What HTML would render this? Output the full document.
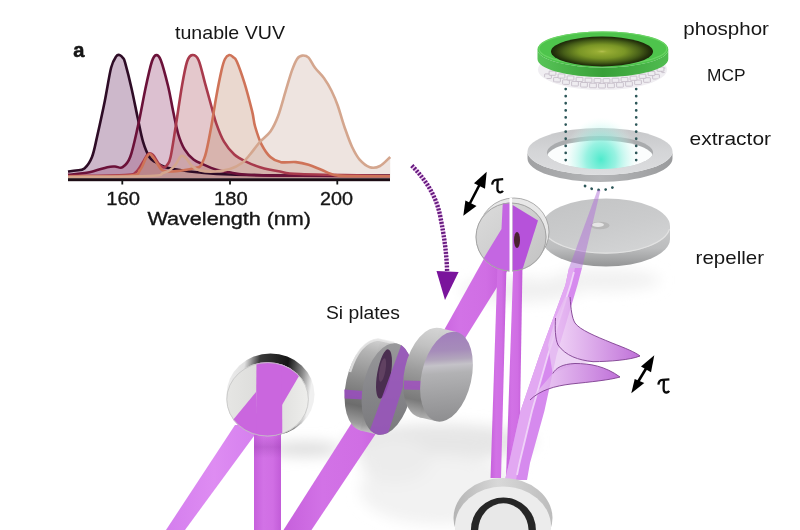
<!DOCTYPE html>
<html><head><meta charset="utf-8">
<style>
html,body{margin:0;padding:0;background:#fff;width:800px;height:530px;overflow:hidden}
svg{display:block;will-change:transform}
text{font-family:"Liberation Sans",sans-serif;fill:#161616}
.lbl{stroke:#161616;stroke-width:0.35}
</style></head><body>
<svg width="800" height="530" viewBox="0 0 800 530">
<defs>
 <radialGradient id="phin" cx="0.5" cy="0.5" r="0.5">
  <stop offset="0" stop-color="#b4c050"/><stop offset="0.1" stop-color="#98ae34"/><stop offset="0.45" stop-color="#7a9626"/><stop offset="0.75" stop-color="#465e18"/><stop offset="0.92" stop-color="#26340c"/><stop offset="1" stop-color="#1a2608"/>
 </radialGradient>
 <linearGradient id="phside" x1="0" y1="0" x2="1" y2="0">
  <stop offset="0" stop-color="#58c458"/><stop offset="0.5" stop-color="#38a038"/><stop offset="1" stop-color="#50bc50"/>
 </linearGradient>
 <radialGradient id="teal" cx="0.5" cy="0.66" r="0.5">
  <stop offset="0" stop-color="#4eeacc" stop-opacity="1"/><stop offset="0.4" stop-color="#76eed8" stop-opacity="0.75"/><stop offset="0.75" stop-color="#b0f6ea" stop-opacity="0.35"/><stop offset="1" stop-color="#e0fff8" stop-opacity="0"/>
 </radialGradient>
 <linearGradient id="ring" x1="0" y1="0" x2="0" y2="1">
  <stop offset="0" stop-color="#c6c7c9"/><stop offset="0.5" stop-color="#d4d5d7"/><stop offset="1" stop-color="#dcdddf"/>
 </linearGradient>
 <linearGradient id="ringside" x1="0" y1="0" x2="1" y2="0">
  <stop offset="0" stop-color="#a0a1a3"/><stop offset="0.5" stop-color="#b4b5b7"/><stop offset="1" stop-color="#9a9b9d"/>
 </linearGradient>
 <linearGradient id="rep" x1="0" y1="0" x2="0.6" y2="1">
  <stop offset="0" stop-color="#c2c3c4"/><stop offset="0.6" stop-color="#cacbcc"/><stop offset="1" stop-color="#d2d3d4"/>
 </linearGradient>
 <linearGradient id="repside" x1="0" y1="0" x2="0" y2="1">
  <stop offset="0" stop-color="#c8c9ca"/><stop offset="0.55" stop-color="#bcbdbe"/><stop offset="1" stop-color="#949596"/>
 </linearGradient>
 <linearGradient id="mir" x1="0" y1="0" x2="1" y2="1">
  <stop offset="0" stop-color="#dcdcdc"/><stop offset="0.5" stop-color="#cfcfcf"/><stop offset="1" stop-color="#c2c2c2"/>
 </linearGradient>
 <linearGradient id="lmface" x1="0" y1="0" x2="1" y2="0">
  <stop offset="0" stop-color="#e6e6e4"/><stop offset="0.5" stop-color="#dadad8"/><stop offset="1" stop-color="#eeeeec"/>
 </linearGradient>
 <linearGradient id="chrome" x1="0" y1="0" x2="1" y2="0.15">
  <stop offset="0" stop-color="#f2f2f2"/><stop offset="0.22" stop-color="#e0e0e0"/><stop offset="0.38" stop-color="#3a3a3a"/><stop offset="0.7" stop-color="#141414"/><stop offset="0.88" stop-color="#8a8a8a"/><stop offset="1" stop-color="#f0f0f0"/>
 </linearGradient>
 <linearGradient id="sirim" gradientUnits="userSpaceOnUse" x1="0" y1="338" x2="0" y2="435">
  <stop offset="0" stop-color="#d4d4d4"/><stop offset="0.15" stop-color="#b4b4b4"/><stop offset="0.45" stop-color="#8c8c8c"/><stop offset="0.72" stop-color="#6c6c6c"/><stop offset="0.9" stop-color="#9c9c9c"/><stop offset="1" stop-color="#d0d0d0"/>
 </linearGradient>
 <linearGradient id="si1face" gradientUnits="userSpaceOnUse" x1="370" y1="345" x2="395" y2="435">
  <stop offset="0" stop-color="#9a9a9c"/><stop offset="0.5" stop-color="#86868a"/><stop offset="1" stop-color="#7a7a7c"/>
 </linearGradient>
 <linearGradient id="si2face" gradientUnits="userSpaceOnUse" x1="440" y1="332" x2="466" y2="420">
  <stop offset="0" stop-color="#a27ebc"/><stop offset="0.2" stop-color="#a68cba"/><stop offset="0.3" stop-color="#b2a6bc"/><stop offset="0.36" stop-color="#c4c2c8"/><stop offset="0.45" stop-color="#b2b2b4"/><stop offset="0.7" stop-color="#a0a0a2"/><stop offset="1" stop-color="#8c8c8e"/>
 </linearGradient>
 <linearGradient id="si2rim" gradientUnits="userSpaceOnUse" x1="0" y1="328" x2="0" y2="421">
  <stop offset="0" stop-color="#d4d4d4"/><stop offset="0.2" stop-color="#c2c2c2"/><stop offset="0.5" stop-color="#9a9a9a"/><stop offset="0.8" stop-color="#7a7a7a"/><stop offset="1" stop-color="#b8b8b8"/>
 </linearGradient>
 <linearGradient id="bmrim" x1="0" y1="0" x2="1" y2="0">
  <stop offset="0" stop-color="#b4b4b4"/><stop offset="0.45" stop-color="#d8d8d8"/><stop offset="1" stop-color="#bcbcbc"/>
 </linearGradient>
 <linearGradient id="pulse" x1="0" y1="0" x2="1" y2="0">
  <stop offset="0" stop-color="#ecc8f4" stop-opacity="0.8"/><stop offset="1" stop-color="#b860d4" stop-opacity="0.9"/>
 </linearGradient>
 <linearGradient id="beam" x1="0" y1="0" x2="1" y2="0">
  <stop offset="0" stop-color="#c660dc"/><stop offset="0.35" stop-color="#d272e6"/><stop offset="0.7" stop-color="#d06ee4"/><stop offset="1" stop-color="#c25cd8"/>
 </linearGradient>
 <linearGradient id="beam1" x1="0" y1="0" x2="1" y2="0">
  <stop offset="0" stop-color="#d47eee"/><stop offset="0.5" stop-color="#de8cf2"/><stop offset="1" stop-color="#d47eee"/>
 </linearGradient>
 <linearGradient id="b2sh" x1="0" y1="0" x2="0" y2="1">
  <stop offset="0" stop-color="#7a2a90" stop-opacity="0"/><stop offset="0.5" stop-color="#7a2a90" stop-opacity="0.22"/><stop offset="1" stop-color="#7a2a90" stop-opacity="0"/>
 </linearGradient>
 <filter id="blur1"><feGaussianBlur stdDeviation="0.7"/></filter>
 <filter id="blur6" x="-50%" y="-50%" width="200%" height="200%"><feGaussianBlur stdDeviation="7"/></filter>
 <filter id="blur3" x="-50%" y="-50%" width="200%" height="200%"><feGaussianBlur stdDeviation="3"/></filter>
 <clipPath id="smclip"><ellipse cx="511" cy="237" rx="35.5" ry="34.5"/></clipPath>
 <clipPath id="lmclip"><ellipse cx="267.6" cy="399.3" rx="41.2" ry="37"/></clipPath>
 <clipPath id="si1clip"><ellipse cx="387.3" cy="389" rx="24.4" ry="46.5" transform="rotate(12 387.3 389)"/></clipPath>
 <clipPath id="si2clip"><ellipse cx="448.5" cy="377" rx="26" ry="45.5" transform="rotate(12.8 448.5 377)"/></clipPath>
 <clipPath id="mcpclip"><ellipse cx="602.5" cy="69.5" rx="63" ry="19.5"/></clipPath>
 <clipPath id="glowclip"><ellipse cx="600" cy="152.5" rx="53" ry="16.5"/><rect x="540" y="100" width="120" height="52.5"/></clipPath>
 <clipPath id="holeclip"><ellipse cx="600" cy="152.5" rx="53" ry="16.5"/></clipPath>
</defs>
<rect width="800" height="530" fill="#fff"/>

<!-- floor shadows -->
<g filter="url(#blur6)">
 <ellipse cx="440" cy="442" rx="95" ry="18" fill="#e6e6e6"/>
 <ellipse cx="440" cy="490" rx="80" ry="35" fill="#f2f2f2"/>
 <ellipse cx="305" cy="449" rx="36" ry="7" fill="#dcdcdc"/>
 <ellipse cx="395" cy="460" rx="35" ry="22" fill="#ececec"/>
 <ellipse cx="605" cy="280" rx="55" ry="11" fill="#f1f1f1"/>
 <ellipse cx="520" cy="290" rx="60" ry="12" fill="#f0f0f0"/>
</g>

<!-- chart -->
<g id="chart">
<path d="M68.0,171.5 C69.3,171.3 73.3,171.0 76.0,170.5 C78.7,170.0 81.7,170.8 84.4,168.5 C87.1,166.2 89.9,162.3 92.0,157.0 C94.1,151.7 95.0,145.9 97.1,136.6 C99.2,127.3 102.5,112.5 104.8,101.0 C107.1,89.5 109.2,75.2 111.1,67.8 C113.0,60.4 114.8,58.5 116.2,56.4 C117.6,54.3 118.4,54.7 119.5,55.0 C120.6,55.3 122.1,56.7 123.0,58.0 C123.9,59.3 123.7,57.7 125.1,62.7 C126.5,67.7 129.4,78.9 131.5,88.2 C133.6,97.5 136.0,109.9 137.9,118.8 C139.8,127.7 141.1,135.3 143.0,141.7 C144.9,148.1 147.3,153.6 149.4,157.0 C151.5,160.4 152.6,160.3 155.3,162.0 C158.0,163.7 161.7,165.9 165.5,167.2 C169.3,168.5 172.4,168.8 178.2,169.7 C183.9,170.6 191.4,171.7 200.0,172.5 C208.6,173.3 213.3,174.0 230.0,174.5 C246.7,175.0 273.3,175.3 300.0,175.5 C326.7,175.7 375.0,175.5 390.0,175.5 L390,178 L68,178 Z" fill="rgb(112,52,106)" fill-opacity="0.35"/>
<path d="M68.0,174.8 C71.6,174.4 83.0,173.6 89.5,172.3 C96.0,171.0 103.0,168.2 107.3,167.2 C111.5,166.2 112.5,166.5 115.0,166.5 C117.5,166.5 120.1,168.8 122.6,167.2 C125.1,165.6 127.6,163.8 130.2,157.0 C132.8,150.2 135.3,137.9 137.9,126.4 C140.5,114.9 143.2,99.0 145.5,88.2 C147.8,77.4 150.1,67.0 151.9,61.5 C153.7,56.0 154.7,55.3 156.2,55.1 C157.7,54.9 158.8,55.1 160.8,60.2 C162.8,65.3 165.9,77.2 168.0,85.7 C170.1,94.2 171.4,103.0 173.1,111.1 C174.8,119.1 176.3,127.6 178.2,134.0 C180.1,140.4 182.0,145.1 184.6,149.4 C187.2,153.7 190.3,157.1 193.5,159.6 C196.7,162.1 199.9,162.9 203.7,164.6 C207.5,166.3 212.2,168.4 216.4,169.7 C220.7,171.0 224.1,171.5 229.2,172.3 C234.3,173.2 235.2,174.2 247.0,174.8 C258.8,175.4 276.2,175.6 300.0,175.8 C323.8,176.0 375.0,176.0 390.0,176.0 L390,178 L68,178 Z" fill="rgb(155,75,121)" fill-opacity="0.35"/>
<path d="M68.0,176.0 C77.5,175.8 113.7,175.7 125.0,175.0 C136.3,174.3 133.0,174.2 136.0,172.0 C139.0,169.8 141.0,165.0 143.0,162.0 C145.0,159.0 146.3,155.2 148.0,154.0 C149.7,152.8 151.2,153.3 153.0,155.0 C154.8,156.7 157.2,161.9 159.0,164.0 C160.8,166.1 162.6,167.4 164.0,167.5 C165.4,167.6 166.4,166.2 167.5,164.5 C168.6,162.8 169.2,163.3 170.6,157.0 C172.0,150.7 173.8,138.3 175.7,126.4 C177.6,114.5 180.1,96.5 182.0,85.7 C183.9,74.9 185.4,66.6 187.1,61.5 C188.8,56.4 190.3,55.3 192.2,55.1 C194.1,54.9 196.5,55.5 198.6,60.2 C200.7,64.9 202.9,75.5 205.0,83.1 C207.1,90.7 209.4,99.2 211.3,106.0 C213.2,112.8 214.3,118.0 216.4,123.9 C218.5,129.8 221.0,136.6 224.0,141.7 C227.0,146.8 230.5,151.1 234.3,154.5 C238.1,157.9 242.7,160.0 247.0,162.1 C251.3,164.2 254.5,165.6 260.0,167.2 C265.5,168.8 273.3,170.4 280.0,171.5 C286.7,172.6 281.7,173.3 300.0,174.0 C318.3,174.7 375.0,175.5 390.0,175.8 L390,178 L68,178 Z" fill="rgb(178,98,109)" fill-opacity="0.35"/>
<path d="M68.0,176.5 C78.3,176.3 118.0,176.6 130.0,175.5 C142.0,174.4 137.3,172.9 140.0,170.0 C142.7,167.1 144.3,160.7 146.0,158.0 C147.7,155.3 148.5,153.7 150.0,154.0 C151.5,154.3 153.0,157.3 155.0,160.0 C157.0,162.7 159.5,168.1 162.0,170.0 C164.5,171.9 166.2,171.5 170.0,171.5 C173.8,171.5 180.8,170.6 185.0,170.0 C189.2,169.4 192.5,168.6 195.0,168.0 C197.5,167.4 198.6,167.8 200.0,166.5 C201.4,165.2 202.5,162.4 203.5,160.0 C204.5,157.6 204.9,157.5 206.2,151.9 C207.5,146.3 209.6,135.7 211.3,126.4 C213.0,117.1 214.7,105.2 216.4,95.9 C218.1,86.6 220.1,76.6 221.5,70.4 C222.9,64.2 223.7,61.5 225.0,59.0 C226.3,56.5 227.9,55.4 229.2,55.1 C230.5,54.8 231.7,55.9 233.0,57.0 C234.3,58.1 234.9,57.1 236.8,61.5 C238.7,65.8 241.9,74.8 244.5,83.1 C247.1,91.4 250.3,103.9 252.1,111.1 C253.9,118.3 253.5,121.0 255.1,126.5 C256.7,132.0 258.9,139.2 261.5,144.3 C264.1,149.4 267.2,154.0 270.4,157.0 C273.6,160.0 276.4,161.2 280.6,162.1 C284.9,162.9 291.2,161.7 295.9,162.1 C300.6,162.5 304.4,163.4 308.6,164.7 C312.9,166.0 317.1,168.1 321.4,169.8 C325.6,171.5 329.9,173.9 334.1,174.9 C338.3,175.9 337.5,175.9 346.8,176.1 C356.1,176.3 382.8,176.3 390.0,176.3 L390,178 L68,178 Z" fill="rgb(195,144,118)" fill-opacity="0.35"/>
<path d="M68.0,177.0 C81.7,176.8 134.2,176.7 150.0,176.0 C165.8,175.3 159.7,174.0 163.0,173.0 C166.3,172.0 167.8,171.5 170.0,170.0 C172.2,168.5 174.2,166.3 176.0,164.0 C177.8,161.7 179.3,157.0 181.0,156.0 C182.7,155.0 184.2,156.3 186.0,158.0 C187.8,159.7 189.7,163.9 192.0,166.0 C194.3,168.1 196.2,169.6 200.0,170.5 C203.8,171.4 210.0,171.8 215.0,171.5 C220.0,171.2 225.5,170.4 230.0,169.0 C234.5,167.6 238.7,165.4 242.0,163.0 C245.3,160.6 247.0,158.1 250.0,154.5 C253.0,150.9 256.8,145.5 260.2,141.7 C263.6,137.9 267.4,135.7 270.4,131.5 C273.4,127.3 275.4,123.1 278.0,116.3 C280.6,109.5 283.4,98.4 285.7,90.8 C288.0,83.2 290.1,75.7 292.0,70.4 C293.9,65.1 295.4,61.4 297.1,58.9 C298.8,56.4 300.3,55.8 302.2,55.6 C304.1,55.4 306.5,55.6 308.6,57.6 C310.7,59.6 312.4,64.4 315.0,67.8 C317.6,71.2 321.1,74.2 323.9,78.0 C326.6,81.8 329.2,86.1 331.5,90.8 C333.8,95.5 335.8,100.0 337.9,106.0 C340.0,112.0 341.9,119.7 344.3,126.5 C346.7,133.3 349.4,141.3 352.0,146.8 C354.6,152.3 356.6,156.2 359.6,159.6 C362.6,163.0 366.4,166.1 369.8,167.2 C373.2,168.3 376.6,167.7 380.0,166.0 C383.4,164.3 388.5,158.5 390.2,157.0 L390.2,178 L68,178 Z" fill="rgb(206,178,166)" fill-opacity="0.35"/>
<path d="M68.0,171.5 C69.3,171.3 73.3,171.0 76.0,170.5 C78.7,170.0 81.7,170.8 84.4,168.5 C87.1,166.2 89.9,162.3 92.0,157.0 C94.1,151.7 95.0,145.9 97.1,136.6 C99.2,127.3 102.5,112.5 104.8,101.0 C107.1,89.5 109.2,75.2 111.1,67.8 C113.0,60.4 114.8,58.5 116.2,56.4 C117.6,54.3 118.4,54.7 119.5,55.0 C120.6,55.3 122.1,56.7 123.0,58.0 C123.9,59.3 123.7,57.7 125.1,62.7 C126.5,67.7 129.4,78.9 131.5,88.2 C133.6,97.5 136.0,109.9 137.9,118.8 C139.8,127.7 141.1,135.3 143.0,141.7 C144.9,148.1 147.3,153.6 149.4,157.0 C151.5,160.4 152.6,160.3 155.3,162.0 C158.0,163.7 161.7,165.9 165.5,167.2 C169.3,168.5 172.4,168.8 178.2,169.7 C183.9,170.6 191.4,171.7 200.0,172.5 C208.6,173.3 213.3,174.0 230.0,174.5 C246.7,175.0 273.3,175.3 300.0,175.5 C326.7,175.7 375.0,175.5 390.0,175.5" fill="none" stroke="#2e0c26" stroke-width="2.6" stroke-linejoin="round"/>
<path d="M68.0,174.8 C71.6,174.4 83.0,173.6 89.5,172.3 C96.0,171.0 103.0,168.2 107.3,167.2 C111.5,166.2 112.5,166.5 115.0,166.5 C117.5,166.5 120.1,168.8 122.6,167.2 C125.1,165.6 127.6,163.8 130.2,157.0 C132.8,150.2 135.3,137.9 137.9,126.4 C140.5,114.9 143.2,99.0 145.5,88.2 C147.8,77.4 150.1,67.0 151.9,61.5 C153.7,56.0 154.7,55.3 156.2,55.1 C157.7,54.9 158.8,55.1 160.8,60.2 C162.8,65.3 165.9,77.2 168.0,85.7 C170.1,94.2 171.4,103.0 173.1,111.1 C174.8,119.1 176.3,127.6 178.2,134.0 C180.1,140.4 182.0,145.1 184.6,149.4 C187.2,153.7 190.3,157.1 193.5,159.6 C196.7,162.1 199.9,162.9 203.7,164.6 C207.5,166.3 212.2,168.4 216.4,169.7 C220.7,171.0 224.1,171.5 229.2,172.3 C234.3,173.2 235.2,174.2 247.0,174.8 C258.8,175.4 276.2,175.6 300.0,175.8 C323.8,176.0 375.0,176.0 390.0,176.0" fill="none" stroke="#6b1139" stroke-width="2.6" stroke-linejoin="round"/>
<path d="M68.0,176.0 C77.5,175.8 113.7,175.7 125.0,175.0 C136.3,174.3 133.0,174.2 136.0,172.0 C139.0,169.8 141.0,165.0 143.0,162.0 C145.0,159.0 146.3,155.2 148.0,154.0 C149.7,152.8 151.2,153.3 153.0,155.0 C154.8,156.7 157.2,161.9 159.0,164.0 C160.8,166.1 162.6,167.4 164.0,167.5 C165.4,167.6 166.4,166.2 167.5,164.5 C168.6,162.8 169.2,163.3 170.6,157.0 C172.0,150.7 173.8,138.3 175.7,126.4 C177.6,114.5 180.1,96.5 182.0,85.7 C183.9,74.9 185.4,66.6 187.1,61.5 C188.8,56.4 190.3,55.3 192.2,55.1 C194.1,54.9 196.5,55.5 198.6,60.2 C200.7,64.9 202.9,75.5 205.0,83.1 C207.1,90.7 209.4,99.2 211.3,106.0 C213.2,112.8 214.3,118.0 216.4,123.9 C218.5,129.8 221.0,136.6 224.0,141.7 C227.0,146.8 230.5,151.1 234.3,154.5 C238.1,157.9 242.7,160.0 247.0,162.1 C251.3,164.2 254.5,165.6 260.0,167.2 C265.5,168.8 273.3,170.4 280.0,171.5 C286.7,172.6 281.7,173.3 300.0,174.0 C318.3,174.7 375.0,175.5 390.0,175.8" fill="none" stroke="#a83a4c" stroke-width="2.6" stroke-linejoin="round"/>
<path d="M68.0,176.5 C78.3,176.3 118.0,176.6 130.0,175.5 C142.0,174.4 137.3,172.9 140.0,170.0 C142.7,167.1 144.3,160.7 146.0,158.0 C147.7,155.3 148.5,153.7 150.0,154.0 C151.5,154.3 153.0,157.3 155.0,160.0 C157.0,162.7 159.5,168.1 162.0,170.0 C164.5,171.9 166.2,171.5 170.0,171.5 C173.8,171.5 180.8,170.6 185.0,170.0 C189.2,169.4 192.5,168.6 195.0,168.0 C197.5,167.4 198.6,167.8 200.0,166.5 C201.4,165.2 202.5,162.4 203.5,160.0 C204.5,157.6 204.9,157.5 206.2,151.9 C207.5,146.3 209.6,135.7 211.3,126.4 C213.0,117.1 214.7,105.2 216.4,95.9 C218.1,86.6 220.1,76.6 221.5,70.4 C222.9,64.2 223.7,61.5 225.0,59.0 C226.3,56.5 227.9,55.4 229.2,55.1 C230.5,54.8 231.7,55.9 233.0,57.0 C234.3,58.1 234.9,57.1 236.8,61.5 C238.7,65.8 241.9,74.8 244.5,83.1 C247.1,91.4 250.3,103.9 252.1,111.1 C253.9,118.3 253.5,121.0 255.1,126.5 C256.7,132.0 258.9,139.2 261.5,144.3 C264.1,149.4 267.2,154.0 270.4,157.0 C273.6,160.0 276.4,161.2 280.6,162.1 C284.9,162.9 291.2,161.7 295.9,162.1 C300.6,162.5 304.4,163.4 308.6,164.7 C312.9,166.0 317.1,168.1 321.4,169.8 C325.6,171.5 329.9,173.9 334.1,174.9 C338.3,175.9 337.5,175.9 346.8,176.1 C356.1,176.3 382.8,176.3 390.0,176.3" fill="none" stroke="#cf7358" stroke-width="2.6" stroke-linejoin="round"/>
<path d="M68.0,177.0 C81.7,176.8 134.2,176.7 150.0,176.0 C165.8,175.3 159.7,174.0 163.0,173.0 C166.3,172.0 167.8,171.5 170.0,170.0 C172.2,168.5 174.2,166.3 176.0,164.0 C177.8,161.7 179.3,157.0 181.0,156.0 C182.7,155.0 184.2,156.3 186.0,158.0 C187.8,159.7 189.7,163.9 192.0,166.0 C194.3,168.1 196.2,169.6 200.0,170.5 C203.8,171.4 210.0,171.8 215.0,171.5 C220.0,171.2 225.5,170.4 230.0,169.0 C234.5,167.6 238.7,165.4 242.0,163.0 C245.3,160.6 247.0,158.1 250.0,154.5 C253.0,150.9 256.8,145.5 260.2,141.7 C263.6,137.9 267.4,135.7 270.4,131.5 C273.4,127.3 275.4,123.1 278.0,116.3 C280.6,109.5 283.4,98.4 285.7,90.8 C288.0,83.2 290.1,75.7 292.0,70.4 C293.9,65.1 295.4,61.4 297.1,58.9 C298.8,56.4 300.3,55.8 302.2,55.6 C304.1,55.4 306.5,55.6 308.6,57.6 C310.7,59.6 312.4,64.4 315.0,67.8 C317.6,71.2 321.1,74.2 323.9,78.0 C326.6,81.8 329.2,86.1 331.5,90.8 C333.8,95.5 335.8,100.0 337.9,106.0 C340.0,112.0 341.9,119.7 344.3,126.5 C346.7,133.3 349.4,141.3 352.0,146.8 C354.6,152.3 356.6,156.2 359.6,159.6 C362.6,163.0 366.4,166.1 369.8,167.2 C373.2,168.3 376.6,167.7 380.0,166.0 C383.4,164.3 388.5,158.5 390.2,157.0" fill="none" stroke="#d4a68e" stroke-width="2.6" stroke-linejoin="round"/>
<rect x="68" y="178.2" width="322" height="3" fill="#1c0c14"/>
<rect x="121.4" y="180" width="1.8" height="4.5" fill="#161616"/>
<rect x="229.1" y="180" width="1.8" height="4.5" fill="#161616"/>
<rect x="336.4" y="180" width="1.8" height="4.5" fill="#161616"/>
<text class="lbl" x="106.3" y="204.8" font-size="19" textLength="33.7" lengthAdjust="spacingAndGlyphs">160</text>
<text class="lbl" x="214" y="204.8" font-size="19" textLength="33.6" lengthAdjust="spacingAndGlyphs">180</text>
<text class="lbl" x="320" y="204.8" font-size="19" textLength="33" lengthAdjust="spacingAndGlyphs">200</text>
<text class="lbl" x="147.5" y="225" font-size="18" textLength="163.5" lengthAdjust="spacingAndGlyphs">Wavelength (nm)</text>
<text x="73.2" y="56.6" font-size="20.5" font-weight="bold" textLength="11.2" lengthAdjust="spacingAndGlyphs" stroke="#111" stroke-width="0.5">a</text>
<text x="175" y="38.6" font-size="19" textLength="110" lengthAdjust="spacingAndGlyphs">tunable VUV</text>
</g>

<!-- labels right -->
<text x="683.3" y="34.5" font-size="19" textLength="85.6" lengthAdjust="spacingAndGlyphs">phosphor</text>
<text x="707" y="81" font-size="17" textLength="38.5" lengthAdjust="spacingAndGlyphs">MCP</text>
<text x="689.6" y="144.7" font-size="19" textLength="81.4" lengthAdjust="spacingAndGlyphs">extractor</text>
<text x="695.6" y="264" font-size="19" textLength="68.4" lengthAdjust="spacingAndGlyphs">repeller</text>
<text x="326" y="318.8" font-size="18.8" textLength="74" lengthAdjust="spacingAndGlyphs">Si plates</text>

<!-- MCP -->
<ellipse cx="602.5" cy="69.5" rx="64.5" ry="20.5" fill="#f0eef2"/>
<g fill="#eeecf0" stroke="#c0b8c4" stroke-width="0.8" clip-path="url(#mcpclip)">
<rect x="544.6" y="73.9" width="6.8" height="4.6" rx="0.6"/>
<rect x="553.6" y="77.4" width="6.8" height="4.6" rx="0.6"/>
<rect x="562.6" y="79.8" width="6.8" height="4.6" rx="0.6"/>
<rect x="571.6" y="81.4" width="6.8" height="4.6" rx="0.6"/>
<rect x="580.6" y="82.5" width="6.8" height="4.6" rx="0.6"/>
<rect x="589.6" y="83.2" width="6.8" height="4.6" rx="0.6"/>
<rect x="598.6" y="83.4" width="6.8" height="4.6" rx="0.6"/>
<rect x="607.6" y="83.2" width="6.8" height="4.6" rx="0.6"/>
<rect x="616.6" y="82.6" width="6.8" height="4.6" rx="0.6"/>
<rect x="625.6" y="81.6" width="6.8" height="4.6" rx="0.6"/>
<rect x="634.6" y="80.0" width="6.8" height="4.6" rx="0.6"/>
<rect x="643.6" y="77.7" width="6.8" height="4.6" rx="0.6"/>
<rect x="652.6" y="74.4" width="6.8" height="4.6" rx="0.6"/>
<rect x="661.6" y="68.0" width="6.8" height="4.6" rx="0.6"/>
<rect x="549.1" y="71.1" width="6.8" height="4.2" rx="0.6"/>
<rect x="558.1" y="73.9" width="6.8" height="4.2" rx="0.6"/>
<rect x="567.1" y="75.9" width="6.8" height="4.2" rx="0.6"/>
<rect x="576.1" y="77.3" width="6.8" height="4.2" rx="0.6"/>
<rect x="585.1" y="78.1" width="6.8" height="4.2" rx="0.6"/>
<rect x="594.1" y="78.5" width="6.8" height="4.2" rx="0.6"/>
<rect x="603.1" y="78.6" width="6.8" height="4.2" rx="0.6"/>
<rect x="612.1" y="78.2" width="6.8" height="4.2" rx="0.6"/>
<rect x="621.1" y="77.4" width="6.8" height="4.2" rx="0.6"/>
<rect x="630.1" y="76.1" width="6.8" height="4.2" rx="0.6"/>
<rect x="639.1" y="74.2" width="6.8" height="4.2" rx="0.6"/>
<rect x="648.1" y="71.4" width="6.8" height="4.2" rx="0.6"/>
<rect x="657.1" y="67.1" width="6.8" height="4.2" rx="0.6"/>
</g>
<!-- phosphor -->
<path d="M537.5,49.5 A65.4,18 0 0 0 668.3,49.5 L668.3,59 A65.4,18 0 0 1 537.5,59 Z" fill="url(#phside)"/>
<ellipse cx="602.9" cy="49.5" rx="65.4" ry="18" fill="#4ec44c"/>
<ellipse cx="602.9" cy="48.5" rx="64" ry="16.5" fill="none" stroke="#6ad464" stroke-width="1.2"/>
<ellipse cx="602" cy="51.5" rx="51" ry="15" fill="url(#phin)"/>

<!-- extractor -->
<path d="M527.5,151.5 A72.5,23.5 0 0 0 672.5,151.5 L672.5,158.5 A72.5,23.5 0 0 1 527.5,158.5 Z" fill="url(#ringside)"/>
<ellipse cx="600" cy="151.5" rx="72.5" ry="23.5" fill="url(#ring)"/>
<ellipse cx="600" cy="152.5" rx="53" ry="16.5" fill="#a9abad"/>
<g clip-path="url(#holeclip)"><ellipse cx="600" cy="157" rx="53" ry="16.5" fill="#fbfdfd"/></g>
<g clip-path="url(#glowclip)"><ellipse cx="601" cy="146" rx="37" ry="42" fill="url(#teal)"/></g>
<!-- dotted lines -->
<g fill="none" stroke="#2c5658" stroke-width="2.7" stroke-dasharray="0.1 7" stroke-linecap="round">
 <path d="M565.7,89 L565.7,166"/>
 <path d="M636.2,89 L636.2,166"/>
 <path d="M585,186 Q600,194 616,186"/>
</g>

<!-- repeller -->
<path d="M542,226 L542,239 A64,27.5 0 0 0 670,239 L670,226 Z" fill="url(#repside)"/>
<ellipse cx="606" cy="226" rx="64" ry="27.5" fill="url(#rep)"/>
<path d="M542.5,229 A64,27.5 0 0 0 669.5,229" fill="none" stroke="#e2e2e2" stroke-width="1.2"/>
<ellipse cx="600" cy="225.5" rx="9.5" ry="3.8" fill="#b8b8b8"/>
<ellipse cx="598" cy="224.8" rx="6" ry="2.2" fill="#e6e6e6"/>
<!-- repeller beam (over repeller, translucent) -->
<polygon points="597.5,190 600.5,190 582,268 569,268" fill="#b070d8" opacity="0.5"/>

<!-- beams -->
<g id="beams" fill="url(#beam)">
 <polygon points="166,530 185,530 262,425 235,425" fill="url(#beam1)"/>
 <polygon points="254,420 281,420 281,530 254,530"/>
 <polygon points="283.5,530 311.5,530 395,405 369.5,395"/>
 <polygon points="433,350 456.5,352 509,268 486,255"/>
 <polygon points="497.5,265 506.5,265 501,478 490.5,478"/>
 <polygon points="513.3,265 522.5,265 519,478 506,478"/>
</g>
<rect x="254" y="436" width="27" height="22" fill="url(#b2sh)"/>
<polygon points="569,268 565.4,285 539.6,355 520.5,411 509,463 505,480 527,480 530,463 544.4,411 556.6,355 577.5,285 582,268" fill="#d68aee"/>
<polygon points="569,268 565.4,285 539.6,355 520.5,411 509,463 505,480 516,480 519.5,463 532,411 548,355 571,285 575,268" fill="#e2a8f2"/>
<polyline points="574,272 570.5,285 548,355 532,411 519.5,463 517,475" fill="none" stroke="#f4e0fa" stroke-width="1.8" opacity="0.8"/>
<!-- left mirror -->
<g id="lmirror">
 <ellipse cx="270.5" cy="394.5" rx="44" ry="41" fill="url(#chrome)"/>
 <ellipse cx="267.6" cy="399.3" rx="41.2" ry="37" fill="url(#lmface)"/>
 <g clip-path="url(#lmclip)" fill="#ca66de">
  <polygon points="256.5,360 282,360 282.3,440 255.8,440"/>
  <polygon points="281,355 311,355 299,376 282,405"/>
  <polygon points="256,392 228,426 240,440 256.5,440"/>
 </g>
 <ellipse cx="267.6" cy="399.3" rx="40.8" ry="36.7" fill="none" stroke="#c4c4c4" stroke-width="0.8"/>
</g>

<!-- Si plate 1 -->
<g id="si1">
 <ellipse cx="370.3" cy="385" rx="24.4" ry="46.5" transform="rotate(12 370.3 385)" fill="url(#sirim)"/>
 <polygon points="360.3,430.4 377.3,434.4 397.3,343.6 380.3,339.6" fill="url(#sirim)"/>
 <path d="M350,372 C356,352 366,341 378,339.5 L394,343" fill="none" stroke="#e8e8e8" stroke-width="2.5" opacity="0.8"/>
 <polygon points="344.2,389.5 363.5,391 363.5,399.5 344.8,398.5" fill="#9a4cc0" opacity="0.85"/>
 <ellipse cx="387.3" cy="389" rx="24.4" ry="46.5" transform="rotate(12 387.3 389)" fill="url(#si1face)"/>
 <g clip-path="url(#si1clip)">
  <ellipse cx="384" cy="374" rx="6.8" ry="25" transform="rotate(10 384 374)" fill="#4a2e50"/>
  <ellipse cx="382.5" cy="370" rx="3" ry="12" transform="rotate(10 382.5 370)" fill="#6a4a68" opacity="0.7"/>
  <polygon points="364,446 384,446 414,352 402,343" fill="#9a52be" opacity="0.85"/>
 </g>
</g>

<!-- Si plate 2 -->
<g id="si2">
 <ellipse cx="429.5" cy="372.7" rx="25" ry="45.8" transform="rotate(12.8 429.5 372.7)" fill="url(#si2rim)"/>
 <polygon points="419.3,417.3 436.3,421.3 456.7,332.1 439.7,328.1" fill="url(#si2rim)"/>
 <polygon points="404,380.5 423,381 423,390 404,389.5" fill="#a050c0" opacity="0.85"/>
 <ellipse cx="446.5" cy="376.7" rx="25" ry="45.8" transform="rotate(12.8 446.5 376.7)" fill="url(#si2face)"/>
</g>

<!-- split mirror -->
<g id="smirror">
 <ellipse cx="514" cy="232" rx="35" ry="34" fill="#e8e8e8" stroke="#9a9a9a" stroke-width="0.8"/>
 <ellipse cx="511" cy="237" rx="35.5" ry="34.5" fill="url(#mir)"/>
 <g clip-path="url(#smclip)">
  <polygon points="503,198 510,198 510,280 472,280 482,261 501.5,229" fill="#c466e2"/>
  <polygon points="512.6,205 538,220.6 521,274 512.6,274" fill="#b652da"/>
  <ellipse cx="517" cy="240" rx="3" ry="8" fill="#4a2030"/>
 </g>
 <ellipse cx="511" cy="237" rx="35" ry="34" fill="none" stroke="#a4a4a4" stroke-width="1"/>
 <rect x="509.5" y="198" width="2.6" height="76" fill="#ffffff"/>
</g>

<!-- bottom mirror -->
<g id="bmirror">
 <ellipse cx="503" cy="518" rx="49.5" ry="40" fill="url(#bmrim)"/>
 <ellipse cx="503" cy="526.5" rx="48" ry="40" fill="#ececec"/>
 <ellipse cx="503.4" cy="530" rx="32.5" ry="32.5" fill="#262626"/>
 <ellipse cx="503.4" cy="531" rx="25.2" ry="27.7" fill="#e8e8e8"/>
</g>

<!-- pulses -->
<path d="M565,297 L570,297 C571,310 572,318 575,323 C580,330 595,336 612,343 C625,348 635,352 640,356 C630,360 610,361.5 593,361.7 C578,360 566,356 558,345 C555,338 555,328 555.5,318 Z" fill="url(#pulse)"/>
<path d="M555.5,318 C555,328 555,338 558,345 C566,356 578,360 593,361.7 L575,364 L552.7,373.6 L548,345 Z" fill="#e8c8f2" opacity="0.8"/>
<path d="M552.7,373.6 C556,368 562,364 575,363.5 C590,363.5 605,366 620,377 C610,380 590,382 571,384 C555,386 540,390 530,400 Z" fill="url(#pulse)"/>
<g fill="none" stroke="#7e3e90" stroke-width="0.9">
 <path d="M570,297 C571,310 572,318 575,323 C580,330 595,336 612,343 C625,348 635,352 640,356 C630,360 610,361.5 593,361.7"/>
 <path d="M555.5,318 C555,328 555,338 558,345 C566,356 578,360 593,361.7"/>
 <path d="M552.7,373.6 C556,368 562,364 575,363.5 C590,363.5 605,366 620,377 C610,380 590,382 571,384 C555,386 540,390 530,400"/>
</g>

<!-- dotted arrow -->
<path d="M411.8,165.6 C426,180 436,196 440,215 C444,235 446.5,252 447.1,271" fill="none" stroke="#f0d0f0" stroke-width="4.2"/>
<path d="M411.8,165.6 C426,180 436,196 440,215 C444,235 446.5,252 447.1,271" fill="none" stroke="#661a80" stroke-width="4.4" stroke-dasharray="1.9 1.5"/>
<polygon points="436.5,271 458.6,271.9 445,299.9" fill="#7a149c"/>

<!-- tau arrows -->
<g stroke="#000" stroke-width="2.6">
 <line x1="467.5" y1="208" x2="482" y2="180"/>
 <line x1="635.5" y1="386" x2="650" y2="362"/>
</g>
<g fill="#000">
 <polygon points="486.7,171.7 474,183.3 485,188.8"/>
 <polygon points="463.3,215.8 465.4,200.5 476.5,206"/>
 <polygon points="654.3,355.3 641,366.6 651,372.3"/>
 <polygon points="631.3,393.2 634.7,379 644.3,383"/>
</g>
<g id="tau1" fill="none" stroke="#0a0a0a" stroke-width="2.3" stroke-linecap="butt">
 <path d="M492.2,184.6 C492.4,181.6 493.6,180 496.2,179.8 L503.2,179.2"/>
 <path d="M497.7,180 L497.4,188.2 C497.3,191.4 498.8,192.6 500.6,192.4 C501.6,192.3 502.4,191.7 502.9,190.8"/>
</g>
<use href="#tau1" transform="translate(166.2,200.1)"/>

</svg>
</body></html>
